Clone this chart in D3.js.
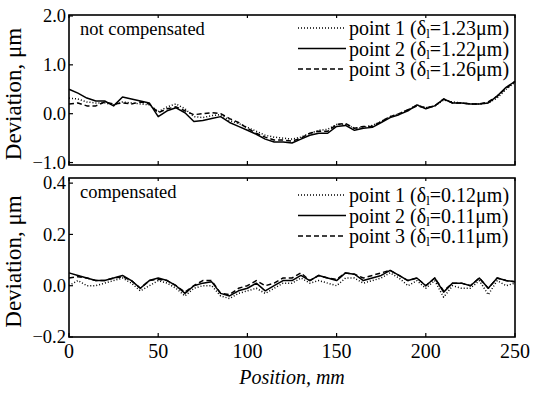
<!DOCTYPE html>
<meta charset="utf-8">
<style>
    body { margin: 0; background: #fff; }
    .frame { fill: none; stroke: #000; stroke-width: 1.6; }
    .tick line { stroke: #000; stroke-width: 1.2; }
    .ticklabel { font-size: 20px; }
    .yticklabel { font-size: 18.5px; }
    .legend { font-size: 20px; }
    .series { fill: none; stroke: #000; stroke-width: 1.5; stroke-linejoin: round; }
</style>
<body>
<script src="https://d3js.org/d3.v7.min.js"></script>
<script>
// positions along the guide, mm (every 5 mm)
var positions = d3.range(0, 251, 5);

// not compensated, um
var topP1 = [0.32, 0.30, 0.24, 0.22, 0.22, 0.18, 0.24, 0.22, 0.20, 0.18, 0.04, 0.14, 0.20, 0.10, -0.06, -0.08, -0.04, -0.02, -0.14, -0.20, -0.28,
    -0.36, -0.44, -0.48, -0.50, -0.52, -0.48, -0.40, -0.34, -0.32, -0.22, -0.22, -0.30, -0.28, -0.24, -0.16, -0.06, 0.00, 0.08, 0.18, 0.12,
    0.16, 0.28, 0.24, 0.22, 0.20, 0.20, 0.22, 0.32, 0.50, 0.64];
var topP2 = [0.50, 0.42, 0.32, 0.26, 0.26, 0.16, 0.34, 0.30, 0.26, 0.22, -0.06, 0.06, 0.12, 0.02, -0.16, -0.14, -0.10, -0.06, -0.18, -0.26, -0.34,
    -0.42, -0.52, -0.58, -0.58, -0.60, -0.52, -0.44, -0.40, -0.40, -0.26, -0.24, -0.34, -0.30, -0.28, -0.18, -0.08, -0.02, 0.06, 0.18, 0.10,
    0.16, 0.30, 0.22, 0.22, 0.20, 0.20, 0.22, 0.36, 0.54, 0.66];
var topP3 = [0.20, 0.22, 0.16, 0.16, 0.24, 0.20, 0.22, 0.20, 0.24, 0.20, 0.02, 0.10, 0.14, 0.06, -0.02, 0.00, 0.02, 0.00, -0.10, -0.18, -0.30,
    -0.40, -0.48, -0.54, -0.54, -0.56, -0.50, -0.40, -0.36, -0.36, -0.22, -0.20, -0.30, -0.26, -0.26, -0.16, -0.06, 0.00, 0.08, 0.16, 0.12,
    0.16, 0.30, 0.22, 0.22, 0.20, 0.20, 0.24, 0.36, 0.52, 0.66];

// compensated, um
var botP1 = [0.00, 0.02, 0.00, 0.00, 0.01, 0.02, 0.03, 0.01, -0.02, 0.00, 0.02, 0.01, -0.01, -0.04, -0.01, 0.00, 0.00, -0.04, -0.05, -0.03, -0.02,
    -0.01, -0.03, -0.01, 0.01, 0.01, 0.03, 0.01, 0.02, 0.01, 0.00, 0.03, 0.03, 0.01, 0.02, 0.03, 0.05, 0.03, 0.00, 0.02, -0.01,
    0.02, -0.045, 0.00, -0.01, -0.01, 0.02, -0.035, 0.02, 0.00, 0.01];
var botP2 = [0.05, 0.04, 0.03, 0.02, 0.02, 0.03, 0.04, 0.02, -0.01, 0.02, 0.03, 0.02, 0.00, -0.03, 0.00, 0.01, 0.015, -0.03, -0.04, -0.02, -0.01,
    0.01, -0.02, 0.00, 0.02, 0.02, 0.04, 0.02, 0.04, 0.03, 0.02, 0.05, 0.045, 0.02, 0.03, 0.04, 0.06, 0.04, 0.02, 0.03, 0.00,
    0.03, -0.025, 0.01, 0.01, 0.00, 0.03, -0.01, 0.03, 0.02, 0.015];
var botP3 = [0.03, 0.035, 0.03, 0.02, 0.02, 0.03, 0.035, 0.02, -0.01, 0.02, 0.025, 0.02, 0.00, -0.025, 0.00, 0.02, 0.02, -0.03, -0.035, -0.01, 0.00,
    0.02, 0.00, 0.01, 0.03, 0.03, 0.05, 0.02, 0.04, 0.03, 0.025, 0.05, 0.045, 0.03, 0.04, 0.05, 0.06, 0.04, 0.02, 0.03, 0.00,
    0.03, -0.02, 0.01, 0.01, 0.00, 0.03, -0.01, 0.03, 0.02, 0.015];

var xTicks = [0, 50, 100, 150, 200, 250];
var topTicks = [-1.0, 0.0, 1.0, 2.0];
var botTicks = [-0.2, 0.0, 0.2, 0.4];
var topLegend = [["point 1", "1.23"], ["point 2", "1.22"], ["point 3", "1.26"]];
var botLegend = [["point 1", "0.12"], ["point 2", "0.11"], ["point 3", "0.11"]];
var dashes = ["1,2", null, "5,3"];

var width = 537, height = 393;
var svg = d3.select("body").append("svg")
    .attr("width", width)
    .attr("height", height)
    .attr("font-family", "Liberation Serif");

var x = d3.scaleLinear().domain([0, 250]).range([69, 515]);

function panel(opts) {
    var y = d3.scaleLinear().domain(opts.domain).range([opts.bottom, opts.top]);
    var g = svg.append("g");

    // inward ticks on left and bottom, light ones on the top edge
    g.append("g").attr("class", "tick")
        .selectAll("line").data(opts.ticks).enter().append("line")
        .attr("x1", x(0)).attr("x2", x(0) + 4)
        .attr("y1", d => y(d)).attr("y2", d => y(d));
    g.append("g").attr("class", "tick")
        .selectAll("line").data(xTicks).enter().append("line")
        .attr("x1", d => x(d)).attr("x2", d => x(d))
        .attr("y1", opts.bottom).attr("y2", opts.bottom - 4);
    g.append("g").attr("class", "tick")
        .selectAll("line").data(xTicks).enter().append("line")
        .attr("x1", d => x(d)).attr("x2", d => x(d))
        .attr("y1", opts.top).attr("y2", opts.top + 3);

    g.selectAll(".ytl").data(opts.ticks).enter().append("text")
        .attr("class", "yticklabel")
        .attr("x", x(0) - 3)
        .attr("y", d => y(d))
        .attr("dy", "0.33em")
        .attr("text-anchor", "end")
        .text(d => d3.format(".1f")(d));

    var line = d3.line()
        .x((d, i) => x(positions[i]))
        .y(d => y(d));

    opts.series.forEach(function (s, i) {
        g.append("path")
            .attr("class", "series")
            .attr("d", line(s))
            .attr("stroke-dasharray", dashes[i]);
    });

    g.append("rect").attr("class", "frame")
        .attr("x", x(0)).attr("y", opts.top)
        .attr("width", x(250) - x(0)).attr("height", opts.bottom - opts.top);

    g.append("text")
        .attr("x", 80).attr("y", opts.top + 20)
        .style("font-size", "18.5px")
        .text(opts.title);

    // legend
    opts.legend.forEach(function (d, i) {
        var ly = opts.top + opts.first + i * 20.5;
        g.append("line")
            .attr("class", "series")
            .attr("x1", 298).attr("x2", 346)
            .attr("y1", ly).attr("y2", ly)
            .attr("stroke-width", 1.2)
            .attr("stroke-dasharray", dashes[i]);
        var t = g.append("text").attr("class", "legend")
            .attr("x", 349).attr("y", ly).attr("dy", "0.35em");
        t.append("tspan").text(d[0] + " (δ");
        t.append("tspan").attr("dy", 3).style("font-size", "13px").text("l");
        t.append("tspan").attr("dy", -3).text("=" + d[1] + "μm)");
    });

    svg.append("text")
        .attr("transform", "translate(21," + ((opts.top + opts.bottom) / 2 + 4) + ") rotate(-90)")
        .attr("text-anchor", "middle")
        .style("font-size", "23px")
        .text("Deviation, μm");
}

panel({
    top: 15, bottom: 165, domain: [-1.05, 2.02], ticks: topTicks,
    series: [topP1, topP2, topP3], legend: topLegend, title: "not compensated", first: 13
});
panel({
    top: 178, bottom: 337, domain: [-0.2, 0.42], ticks: botTicks,
    series: [botP1, botP2, botP3], legend: botLegend, title: "compensated", first: 17
});

svg.selectAll(".xtl").data(xTicks).enter().append("text")
    .attr("class", "ticklabel")
    .attr("x", d => x(d))
    .attr("y", 358)
    .attr("text-anchor", "middle")
    .text(d => d);

svg.append("text")
    .attr("x", x(125)).attr("y", 384)
    .attr("text-anchor", "middle")
    .style("font-size", "20px")
    .style("font-style", "italic")
    .text("Position, mm");
</script>
</body>
